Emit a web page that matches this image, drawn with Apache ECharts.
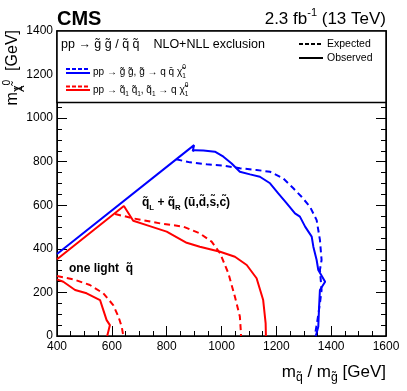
<!DOCTYPE html>
<html>
<head>
<meta charset="utf-8">
<script src="https://cdn.jsdelivr.net/npm/echarts@6/dist/echarts.min.js"></script>
<style>
  html, body { margin: 0; padding: 0; background: #fff; }
  #chart { width: 407px; height: 391px; }
</style>
</head>
<body>
<div id="chart"></div>
<script>
// gluino pair production, g -> q qbar chi (blue)
var glObsX = [400, 900, 895, 903, 934, 976, 1007, 1037, 1067, 1104, 1140, 1177, 1207, 1238, 1268, 1286, 1305, 1329, 1335, 1347, 1353, 1378, 1359, 1356, 1353, 1345, 1343];
var glObsY = [376, 876, 849, 853, 851, 846, 823, 792, 754, 742, 731, 701, 655, 609, 563, 548, 502, 456, 410, 349, 303, 249, 211, 135, 43, 5, 0];
var glExpX = [835, 885, 946, 1007, 1067, 1128, 1177, 1225, 1262, 1292, 1323, 1347, 1359, 1365, 1359, 1365, 1359, 1350, 1341, 1340];
var glExpY = [811, 797, 788, 782, 770, 762, 754, 724, 678, 639, 593, 532, 441, 349, 303, 211, 150, 73, 5, 0];

// squark pair production, 8 degenerate light squarks (red)
var sqObsX = [400, 644, 678, 727, 800, 873, 921, 995, 1049, 1092, 1128, 1152, 1161, 1162];
var sqObsY = [352, 597, 529, 509, 479, 428, 410, 387, 364, 326, 265, 165, 58, 0];
var sqExpX = [612, 678, 776, 861, 921, 964, 995, 1025, 1049, 1067, 1071, 1071];
var sqExpY = [560, 540, 517, 502, 471, 433, 379, 288, 180, 89, 12, 0];

// one light squark (red)
var sq1ObsX = [400, 423, 466, 508, 557, 569, 581, 593, 587, 583];
var sq1ObsY = [260, 249, 211, 196, 165, 119, 73, 50, 20, 0];
var sq1ExpX = [400, 460, 520, 569, 605, 624, 636, 642];
var sq1ExpY = [275, 260, 234, 196, 142, 89, 43, 0];

var FONT = 'Liberation Sans';
var BLUE = '#0000ff';
var RED = '#ff0000';

function pairs(xs, ys) {
  return xs.map(function (x, i) { return [x, ys[i]]; });
}

function curve(xs, ys, color, dashed) {
  return {
    type: 'line',
    data: pairs(xs, ys),
    showSymbol: false,
    silent: true,
    lineStyle: { color: color, width: 2, type: dashed ? [6, 4] : 'solid' }
  };
}

function plain(v) { return String(v); }

var axisCommon = {
  axisLine: { show: true, lineStyle: { color: '#000', width: 1 } },
  axisTick: { show: true, inside: true, length: 10, lineStyle: { color: '#000' } },
  minorTick: { show: true, splitNumber: 4, length: 5, lineStyle: { color: '#000' } },
  splitLine: { show: false }
};

var myChart = echarts.init(document.getElementById('chart'));

// rich styles for sub/superscripts
var richBase = function (size, r) {
  r = r || 0.65;
  return {
    n: { fontSize: size, fontFamily: FONT, color: '#000', lineHeight: size + 6 },
    sb: { fontSize: size * r, fontFamily: FONT, color: '#000', verticalAlign: 'bottom', lineHeight: size * 0.6 },
    sp: { fontSize: size * 0.65, fontFamily: FONT, color: '#000', verticalAlign: 'top', lineHeight: size * 0.6 },
    sb0: { fontSize: size * 0.65, fontFamily: FONT, color: '#000', verticalAlign: 'bottom', lineHeight: size * 0.4, width: 0 },
    nb: { fontSize: size, fontFamily: FONT, fontWeight: 'bold', color: '#000', lineHeight: size + 6 },
    sbb: { fontSize: size * r, fontFamily: FONT, fontWeight: 'bold', color: '#000', verticalAlign: 'bottom', lineHeight: size * 0.6 }
  };
};

var option = {
  animation: false,
  grid: { left: 57, right: 21, top: 31, bottom: 55, show: true, borderColor: '#000', borderWidth: 1.5 },
  xAxis: Object.assign({
    type: 'value', min: 400, max: 1600, interval: 200,
    axisLabel: { fontSize: 12, color: '#000', fontFamily: FONT, margin: 5, formatter: plain }
  }, axisCommon),
  yAxis: [
    Object.assign({
      type: 'value', min: 0, max: 1400, interval: 200,
      axisLabel: { fontSize: 12, color: '#000', fontFamily: FONT, margin: 4, formatter: plain }
    }, axisCommon),
    Object.assign({
      type: 'value', min: 0, max: 1400, interval: 200, position: 'right',
      axisLabel: { show: false }
    }, axisCommon)
  ],
  series: [
    curve(sq1ExpX, sq1ExpY, RED, true),
    curve(sq1ObsX, sq1ObsY, RED, false),
    curve(sqExpX, sqExpY, RED, true),
    curve(sqObsX, sqObsY, RED, false),
    curve(glExpX, glExpY, BLUE, true),
    curve(glObsX, glObsY, BLUE, false)
  ],
  graphic: [
    // legend box
    { type: 'rect', z: 50, shape: { x: 57, y: 31, width: 329, height: 71.5 },
      style: { fill: '#fff', stroke: '#000', lineWidth: 1.5 } },
    { type: 'text', z: 51, x: 61, y: 45,
      style: { text: 'pp → g̃ g̃ / q̃ q̃    NLO+NLL exclusion', font: '12.5px ' + FONT, fill: '#000', textVerticalAlign: 'middle' } },
    { type: 'line', z: 51, shape: { x1: 299, y1: 44, x2: 323, y2: 44 }, style: { stroke: '#000', lineWidth: 2, lineDash: [4, 2] } },
    { type: 'text', z: 51, x: 327, y: 44,
      style: { text: 'Expected', font: '10.5px ' + FONT, fill: '#000', textVerticalAlign: 'middle' } },
    { type: 'line', z: 51, shape: { x1: 299, y1: 58, x2: 323, y2: 58 }, style: { stroke: '#000', lineWidth: 2 } },
    { type: 'text', z: 51, x: 327, y: 58,
      style: { text: 'Observed', font: '10.5px ' + FONT, fill: '#000', textVerticalAlign: 'middle' } },
    { type: 'line', z: 51, shape: { x1: 66, y1: 69, x2: 90, y2: 69 }, style: { stroke: BLUE, lineWidth: 2, lineDash: [4, 2] } },
    { type: 'line', z: 51, shape: { x1: 66, y1: 73, x2: 90, y2: 73 }, style: { stroke: BLUE, lineWidth: 2 } },
    { type: 'text', z: 51, x: 93, y: 72,
      style: { text: '{n|pp → g̃ g̃, g̃ → q q̄ χ̃}{sb0|1}{sp|0}', rich: richBase(10), textVerticalAlign: 'middle' } },
    { type: 'line', z: 51, shape: { x1: 66, y1: 86.5, x2: 90, y2: 86.5 }, style: { stroke: RED, lineWidth: 2, lineDash: [4, 2] } },
    { type: 'line', z: 51, shape: { x1: 66, y1: 90, x2: 90, y2: 90 }, style: { stroke: RED, lineWidth: 2 } },
    { type: 'text', z: 51, x: 93, y: 90,
      style: { text: '{n|pp → q̃}{sb|1}{n| q̃}{sb|1}{n|, q̃}{sb|1}{n| → q χ̃}{sb0|1}{sp|0}', rich: richBase(10), textVerticalAlign: 'middle' } },

    // header
    { type: 'text', x: 57, y: 19,
      style: { text: 'CMS', font: 'bold 20px ' + FONT, fill: '#000', textVerticalAlign: 'middle' } },
    { type: 'text', x: 386, y: 19,
      style: { text: '{n|2.3 fb}{sp|-1}{n| (13 TeV)}', rich: richBase(17), textAlign: 'right', textVerticalAlign: 'middle' } },

    // axis titles
    { type: 'text', x: 386, y: 372,
      style: { text: '{n|m}{sb|q̃}{n| / m}{sb|g̃}{n| [GeV]}', rich: richBase(17, 0.72), textAlign: 'right', textVerticalAlign: 'middle' } },
    { type: 'text', x: 13, y: 30, rotation: Math.PI / 2,
      style: { text: '{n|m}{sb|χ̃}{sb0|1}{sp|0}{n|  [GeV]}', rich: richBase(16, 0.78), textAlign: 'right', textVerticalAlign: 'middle' } },

    // annotations
    { type: 'text', z: 20, x: 142, y: 203,
      style: { text: '{nb|q̃}{sbb|L}{nb| + q̃}{sbb|R}{nb| (ũ,d̃,s̃,c̃)}', rich: richBase(12), textVerticalAlign: 'middle' } },
    { type: 'text', z: 20, x: 69, y: 269,
      style: { text: 'one light  q̃', font: 'bold 12px ' + FONT, fill: '#000', textVerticalAlign: 'middle' } }
  ]
};

myChart.setOption(option);
</script>
</body>
</html>
